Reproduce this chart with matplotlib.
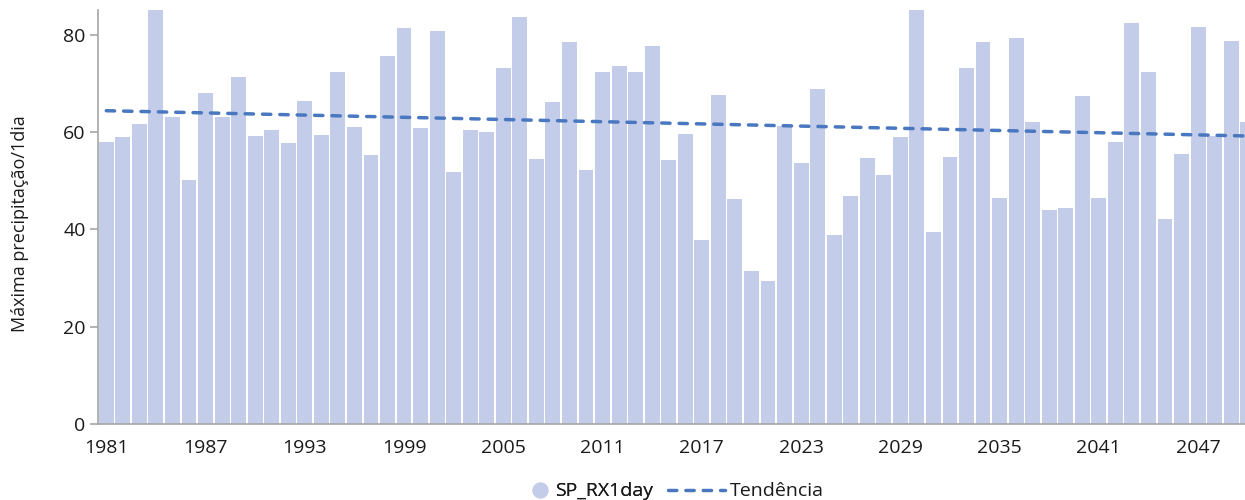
import matplotlib.pyplot as plt
from matplotlib.lines import Line2D

plt.rcParams['font.family'] = ['Open Sans', 'DejaVu Sans']

# --- dados ---
anos = list(range(1981, 2051))
rx1day = [57.9, 58.9, 61.6, 88.0, 63.1, 50.2, 68.1, 63.1, 71.3, 59.3,
          60.4, 57.7, 66.3, 59.4, 72.4, 61.1, 55.2, 75.7, 81.5, 60.8,
          80.8, 51.7, 60.5, 60.1, 73.2, 83.6, 54.4, 66.1, 78.5, 52.3,
          72.4, 73.6, 72.4, 77.6, 54.2, 59.6, 37.9, 67.7, 46.3, 31.4,
          29.4, 61.2, 53.7, 68.9, 38.8, 46.9, 54.7, 51.1, 58.9, 88.0,
          39.4, 54.9, 73.2, 78.6, 46.5, 79.3, 62.0, 43.9, 44.4, 67.4,
          46.4, 58.0, 82.4, 72.3, 42.2, 55.5, 81.6, 59.1, 78.8, 62.0]
tendencia_anos = [1981, 2050]
tendencia_vals = [64.4, 59.2]
anos_ticks = list(range(1981, 2051, 6))

cor_barra = '#c3cce9'
cor_linha = '#4a78c0'
cor_texto = '#1a1a1a'

fig = plt.figure(figsize=(12.45, 5), dpi=100)
ax = fig.add_axes([98 / 1245, 76 / 500, 1158 / 1245, 414 / 500])

ax.bar(anos, rx1day, width=0.9, color=cor_barra, zorder=2)
ax.plot(tendencia_anos, tendencia_vals, color=cor_linha, lw=2.5,
        dashes=(2.4, 2.6), dash_capstyle='round', zorder=3)

ax.set_xlim(1980.5, 2050.5)
ax.set_ylim(0, 85.1)
ax.set_yticks([0, 20, 40, 60, 80])
ax.set_xticks(anos_ticks)

for lado in ['top', 'right']:
    ax.spines[lado].set_visible(False)
for lado in ['left', 'bottom']:
    ax.spines[lado].set_color('#a6a6a6')
    ax.spines[lado].set_linewidth(1.2)

ax.tick_params(axis='y', length=6, width=1.2, color='#a6a6a6', pad=3,
               labelsize=14, labelcolor=cor_texto)
ax.tick_params(axis='x', length=0, pad=10.5, labelsize=14, labelcolor=cor_texto)

fig.text(20 / 1245, 0.552, 'Máxima precipitação/1dia', rotation=90,
         ha='center', va='center', fontsize=13, color=cor_texto)

# legenda em duas partes para o círculo ficar junto do texto
circulo = Line2D([], [], marker='o', linestyle='none', markersize=10.5,
                 markerfacecolor=cor_barra, markeredgecolor=cor_barra)
tracejado = Line2D([], [], color=cor_linha, lw=2.5, dashes=(2.4, 2.6),
                   dash_capstyle='round')
leg1 = fig.legend([circulo], ['SP_RX1day'], loc='center right',
                  bbox_to_anchor=(653 / 1245, 0.017), frameon=False,
                  fontsize=14, handlelength=1.0, handletextpad=0.27,
                  borderpad=0, borderaxespad=0, labelcolor=cor_texto)
leg2 = fig.legend([tracejado], ['Tendência'], loc='center left',
                  bbox_to_anchor=(668 / 1245, 0.017), frameon=False,
                  fontsize=14, handlelength=2.94, handletextpad=0.26,
                  borderpad=0, borderaxespad=0, labelcolor=cor_texto)
fig.add_artist(leg1)

fig.savefig('out.png', dpi=100)
